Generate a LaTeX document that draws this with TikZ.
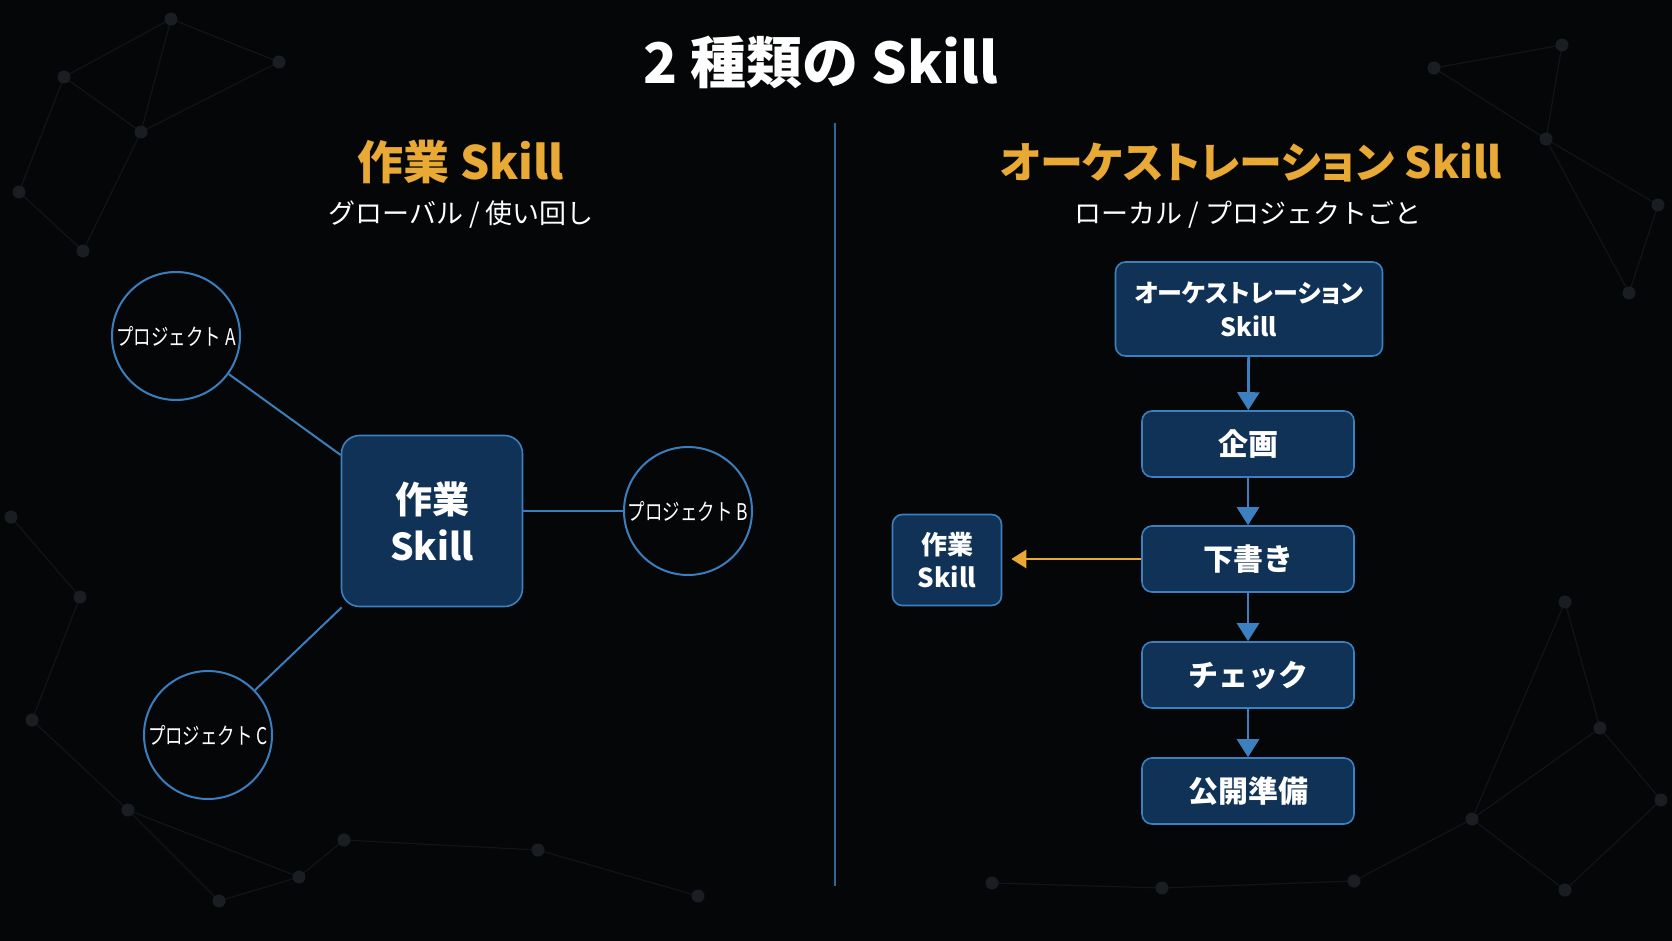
\documentclass[tikz,border=0pt]{standalone}
\usepackage{fontspec}
\setmainfont{Noto Sans CJK JP}
\newfontfamily\jpcond[FakeStretch=0.76]{Noto Sans CJK JP}
\newfontfamily\jpprop[RawFeature=+palt]{Noto Sans CJK JP}
\usetikzlibrary{arrows.meta}
\definecolor{bg}{HTML}{050607}
\definecolor{boxfill}{HTML}{0F3256}
\definecolor{boxline}{HTML}{3D80C0}
\definecolor{circline}{HTML}{3A7EBE}
\definecolor{orangeT}{HTML}{E8A935}
\definecolor{netline}{HTML}{111419}
\definecolor{netdot}{HTML}{1A1D22}
\tikzset{
  subt/.style={text=white, font=\fontsize{27}{32}\selectfont},
  box/.style={draw=boxline, fill=boxfill, line width=1.6pt, rounded corners=10pt,
    text=white, align=center, inner sep=0pt},
  proj/.style={circle, draw=circline, line width=2pt, minimum size=128pt, inner sep=0pt,
    text=white, font=\jpcond\fontsize{23}{26}\selectfont},
  link/.style={draw=circline, line width=2pt},
  flow/.style={draw=boxline, line width=2.8pt, -{Triangle[length=18pt,width=22pt]}},
  call/.style={draw=orangeT, line width=2.6pt, -{Triangle[length=15pt,width=18pt]}, shorten >=9pt},
  dot/.style={circle, fill=netdot, inner sep=0pt, minimum size=13pt}
}
\begin{document}
\begin{tikzpicture}[x=1pt,y=-1pt]
\fill[bg] (0,0) rectangle (1672,941);
\useasboundingbox (0,0) rectangle (1672,941);
% faint background network
\foreach \n/\x/\y in {n1/171/19, n2/64/77, n3/279/62, n4/141/132, n5/19/192, n6/83/251,
  n7/1562/45, n8/1434/68, n9/1546/139, n10/1658/205, n11/1629/293,
  n12/11/517, n13/80/597, n14/32/720, n15/128/810, n16/219/901, n17/299/877, n18/344/840,
  n19/538/850, n20/698/896, n21/992/883, n22/1162/888, n23/1354/881, n24/1472/819,
  n25/1565/602, n26/1600/728, n27/1661/800, n28/1565/890}
  \coordinate (\n) at (\x,\y);
\foreach \a/\b in {n1/n2, n1/n3, n2/n4, n3/n4, n2/n5, n4/n6, n5/n6, n1/n4,
  n7/n8, n7/n9, n8/n9, n9/n10, n10/n11, n9/n11,
  n12/n13, n13/n14, n14/n15, n15/n16, n15/n17, n16/n17, n17/n18, n18/n19, n19/n20,
  n21/n22, n22/n23, n23/n24, n24/n25, n25/n26, n26/n27, n24/n28, n26/n24, n27/n28}
  \draw[netline, line width=1.2pt] (\a) -- (\b);
\foreach \n in {n1,n2,n3,n4,n5,n6,n7,n8,n9,n10,n11,n12,n13,n14,n15,n16,n17,n18,n19,n20,n21,n22,n23,n24,n25,n26,n27,n28}
  \node[dot] at (\n) {};
% title
\node[text=white, font=\bfseries\fontsize{56}{60}\selectfont] (title) at (821,62) {2 種類の Skill};
% divider
\coordinate (dtop) at (835,123);
\coordinate (dbot) at (835,886);
\draw[draw=boxline!80!black, line width=2pt] (dtop) -- (dbot);
% left side
\node[text=orangeT, font=\bfseries\fontsize{46}{50}\selectfont] (lhead) at (461,162) {作業 Skill};
\node[subt] (lsub) at (461,215) {グローバル / 使い回し};
\node[box, rounded corners=18pt, minimum width=181pt, minimum height=171pt,
  font=\bfseries\fontsize{37}{47}\selectfont] (core) at (432,521) {作業\\Skill};
\node[proj] (pa) at (176,336) {プロジェクト A};
\node[proj] (pb) at (688,511) {プロジェクト B};
\node[proj] (pc) at (208,735) {プロジェクト C};
\draw[link] (pa) -- (core);
\draw[link] (core.east |- pb) -- (pb);
\draw[link] (pc) -- (core);
% right side
\node[text=orangeT, font=\jpprop\bfseries\fontsize{43}{48}\selectfont] (rhead) at (1251,162) {オーケストレーション Skill};
\node[subt] (rsub) at (1248,215) {ローカル / プロジェクトごと};
\node[box, minimum width=267pt, minimum height=94pt, font=\jpprop\bfseries\fontsize{25}{34}\selectfont]
  (orch) at (1249,309) {オーケストレーション\\Skill};
\node[box, minimum width=212pt, minimum height=66pt, font=\bfseries\fontsize{30}{34}\selectfont]
  (plan) at (1248,444) {企画};
\node[box, minimum width=212pt, minimum height=66pt, font=\bfseries\fontsize{30}{34}\selectfont]
  (draft) at (1248,559) {下書き};
\node[box, minimum width=212pt, minimum height=66pt, font=\bfseries\fontsize{30}{34}\selectfont]
  (check) at (1248,675) {チェック};
\node[box, minimum width=212pt, minimum height=66pt, font=\bfseries\fontsize{30}{34}\selectfont]
  (pub) at (1248,791) {公開準備};
\node[box, minimum width=109pt, minimum height=91pt, font=\bfseries\fontsize{26}{33}\selectfont]
  (wsk) at (947,560) {作業\\Skill};
\draw[flow] (orch) -- (plan);
\draw[flow] (plan) -- (draft);
\draw[flow] (draft) -- (check);
\draw[flow] (check) -- (pub);
\draw[call] (draft.west) -- (draft.west -| wsk.east);
\end{tikzpicture}
\end{document}
